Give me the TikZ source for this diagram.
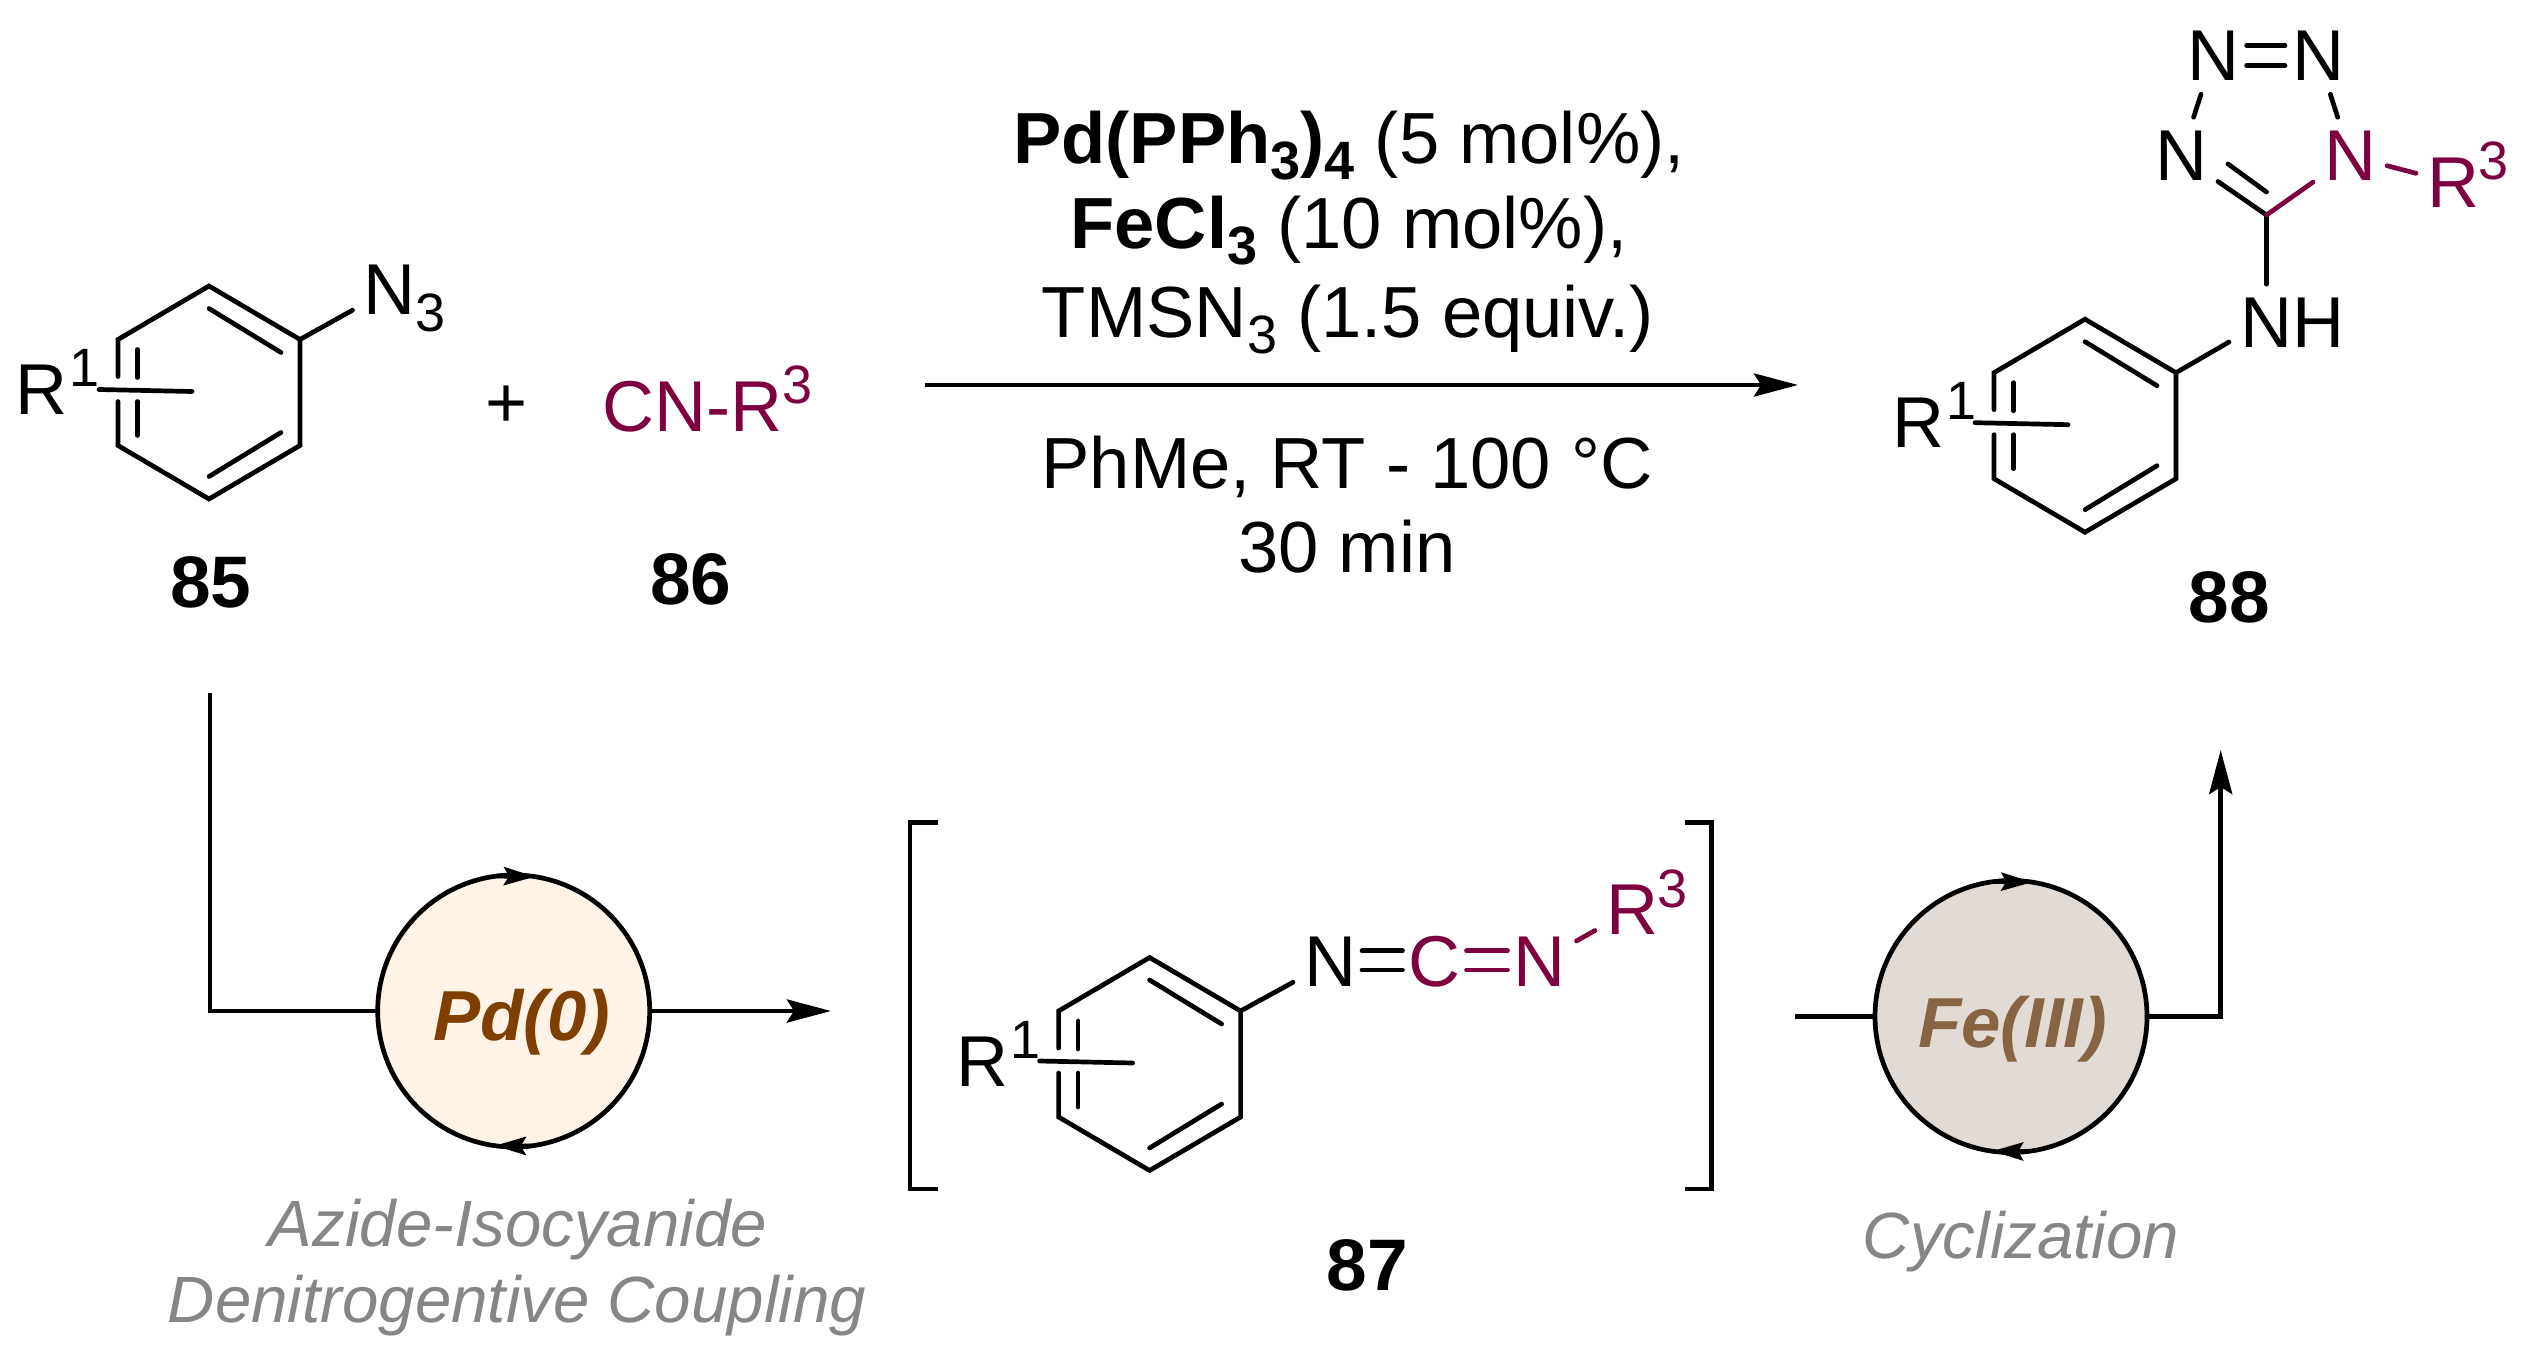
\documentclass[tikz,border=0pt]{standalone}
\usepackage{fontspec}
\usepackage{xcolor}
\setmainfont{Liberation Sans}
\usetikzlibrary{arrows.meta}
\definecolor{isoPurple}{HTML}{7F003F}
\definecolor{pdBrown}{HTML}{7F3F00}
\definecolor{pdFill}{HTML}{FFF3E8}
\definecolor{feBrown}{HTML}{856544}
\definecolor{feFill}{HTML}{E2DAD5}
\definecolor{stepGray}{HTML}{868686}
\newcommand{\Sub}[1]{\raisebox{-8pt}{\fontsize{27}{27}\selectfont #1}}
\newcommand{\Sup}[1]{\raisebox{14pt}{\fontsize{27}{27}\selectfont #1}}
\newcommand{\Aryl}[3]{%
\begin{scope}[shift={(#2,#3)}]
\coordinate (#1-t) at (0,-106.5);
\coordinate (#1-ur) at (91,-53);
\coordinate (#1-lr) at (91,53);
\coordinate (#1-b) at (0,106.5);
\coordinate (#1-ll) at (-91,53);
\coordinate (#1-ul) at (-91,-53);
\coordinate (#1-gu) at (-91,-16);
\coordinate (#1-gl) at (-91,9);
\coordinate (#1-iua) at (0,-84);
\coordinate (#1-iub) at (72,-40);
\coordinate (#1-ila) at (0,84);
\coordinate (#1-ilb) at (72,40);
\coordinate (#1-ia) at (-71.5,-43);
\coordinate (#1-ib) at (-71.5,-15);
\coordinate (#1-ic) at (-71.5,9);
\coordinate (#1-id) at (-71.5,43);
\coordinate (#1-sa) at (-110,-3);
\coordinate (#1-sb) at (-17,-1);
\node[atom,anchor=base west] (#1-r) at (-204,22) {R\kern1pt\Sup{1}};
\draw[bond] (#1-gu) -- (#1-ul) -- (#1-t) -- (#1-ur) -- (#1-lr) -- (#1-b) -- (#1-ll) -- (#1-gl);
\draw[bond] (#1-iua) -- (#1-iub);
\draw[bond] (#1-ila) -- (#1-ilb);
\draw[bond] (#1-ia) -- (#1-ib);
\draw[bond] (#1-ic) -- (#1-id);
\draw[bond] (#1-sa) -- (#1-sb);
\end{scope}}
\tikzset{
bond/.style={line width=2.35pt,line cap=round,line join=miter},
isobond/.style={bond,color=isoPurple},
flow/.style={line width=2.35pt,-{Stealth[length=22pt,width=11.5pt,inset=3.5pt]}},
plain/.style={line width=2.35pt},
bracket/.style={line width=2.35pt},
cycletip/.style={-{Stealth[length=15.5pt,width=9pt,inset=2.5pt]},line width=2.35pt},
atom/.style={inner xsep=5.5pt,inner ysep=7pt,outer sep=0pt},
isoatom/.style={atom,text=isoPurple},
tag/.style={font=\fontsize{36.5}{44}\bfseries\selectfont},
cycle/.style={circle,draw,line width=2.35pt,minimum size=136pt,inner sep=0pt,outer sep=0pt},
metal/.style={anchor=base,font=\fontsize{35.4}{42}\bfseries\itshape\selectfont},
note/.style={anchor=base,text=stepGray,font=\fontsize{32.7}{40}\itshape\selectfont},
cond/.style={anchor=base,font=\fontsize{36.2}{44}\selectfont}
}
\begin{document}
\begin{tikzpicture}[x=0.5pt,y=-0.5pt,every node/.append style={font=\fontsize{36}{43}\selectfont}]
\useasboundingbox (0,0) rectangle (2539,1364);

\Aryl{a}{209}{392.5}
\node[atom] (a-n) at (389.5,289.5) {N};
\node[atom,anchor=base west,inner xsep=0pt] (a-n3) at (415,316) {\Sub{3}};
\node (plus) at (507,407) {+};
\node[anchor=base west,text=isoPurple] (iso) at (595,431) {CN-R\Sup{3}};
\node[tag,anchor=base] (c85) at (211,607) {85};
\node[tag,anchor=base] (c86) at (691,604) {86};
\draw[bond] (a-ur) -- (a-n);

\node[cond] (r1) at (1349,164) {\textbf{Pd(PPh\Sub{3})\Sub{4}} (5 mol\%),};
\node[cond] (r2) at (1349,249) {\textbf{FeCl\Sub{3}} (10 mol\%),};
\node[cond] (r3) at (1348,337) {TMSN\Sub{3} (1.5 equiv.)};
\node[cond] (r4) at (1347,488) {PhMe, RT - 100 °C};
\node[cond] (r5) at (1347,572) {30 min};
\coordinate (rxn-a) at (925,385);
\coordinate (rxn-b) at (1798,385);
\draw[flow] (rxn-a) -- (rxn-b);

\Aryl{p}{2085}{425.7}
\node[atom] (nh) at (2292,323) {NH};
\node[atom] (n1) at (2213.6,55.5) {N};
\node[atom] (n2) at (2318,55.5) {N};
\node[atom] (n3) at (2181,156) {N};
\node[isoatom] (n4) at (2350,156) {N};
\coordinate (c5) at (2266.5,215);
\coordinate (c5-a) at (2266.5,192);
\coordinate (c5-b) at (2228,164);
\node[isoatom] (p-r3) at (2453,183) {R};
\node[anchor=base west,inner xsep=0pt,text=isoPurple] (p-r3s) at (2478,180) {\fontsize{27}{27}\selectfont 3};
\node[tag,anchor=base] (c88) at (2229,622) {88};
\draw[bond] (p-ur) -- ([yshift=-9.5pt]nh.west);
\draw[bond] (c5) -- (c5 |- nh.north);
\draw[bond] (c5) -- (n3);
\draw[bond] (c5-a) -- (c5-b);
\draw[isobond] (c5) -- (n4);
\draw[bond] (n3) -- (n1);
\draw[bond] (n2) -- (n4);
\draw[bond,shorten <=-2pt,shorten >=-2pt] ([yshift=5pt]n1.east) -- ([yshift=5pt]n2.west);
\draw[bond,shorten <=-2pt,shorten >=-2pt] ([yshift=-5pt]n1.east) -- ([yshift=-5pt]n2.west);
\draw[isobond] (n4) -- (p-r3);

\coordinate (pd-in) at (210,693);
\coordinate (pd-out) at (831,1011);
\node[cycle,fill=pdFill] (pd) at (513.7,1011) {};
\node[metal,text=pdBrown] (pd-t) at (521.5,1040.5) {Pd(0)};
\draw[plain] (pd-in) |- (pd.west);
\draw[flow] (pd.east) -- (pd-out);
\draw[cycletip] (pd.97) -- (pd.81);
\draw[cycletip] (pd.277) -- (pd.262);
\node[note] (pd-n1) at (518,1246.5) {Azide-Isocyanide};
\node[note] (pd-n2) at (517,1322) {Denitrogentive Coupling};

\coordinate (bl-a) at (937.6,822.7);
\coordinate (bl-b) at (910,822.7);
\coordinate (bl-c) at (910,1189);
\coordinate (bl-d) at (937.6,1189);
\coordinate (br-a) at (1684.7,822.7);
\coordinate (br-b) at (1711.6,822.7);
\coordinate (br-c) at (1711.6,1189);
\coordinate (br-d) at (1684.7,1189);
\draw[bracket] (bl-a) -- (bl-b) -- (bl-c) -- (bl-d);
\draw[bracket] (br-a) -- (br-b) -- (br-c) -- (br-d);
\Aryl{i}{1149.6}{1064}
\node[atom] (i-n) at (1330,962) {N};
\node[isoatom] (i-c) at (1434.5,962) {C};
\node[isoatom] (i-m) at (1539.5,962) {N};
\node[isoatom] (i-r) at (1632,909.5) {R};
\node[anchor=base west,inner xsep=0pt,text=isoPurple] (i-rs) at (1657,907) {\fontsize{27}{27}\selectfont 3};
\node[tag,anchor=base] (c87) at (1367,1290) {87};
\draw[bond] (i-ur) -- (i-n);
\draw[bond,shorten <=-2.5pt,shorten >=-2.5pt] ([yshift=5.6pt]i-n.east) -- ([yshift=5.6pt]i-c.west);
\draw[bond,shorten <=-2.5pt,shorten >=-2.5pt] ([yshift=-4pt]i-n.east) -- ([yshift=-4pt]i-c.west);
\draw[isobond,shorten <=-2.5pt,shorten >=-2.5pt] ([yshift=5.6pt]i-c.east) -- ([yshift=5.6pt]i-m.west);
\draw[isobond,shorten <=-2.5pt,shorten >=-2.5pt] ([yshift=-4pt]i-c.east) -- ([yshift=-4pt]i-m.west);
\draw[isobond] (i-m) -- (i-r);

\coordinate (fe-in) at (1795,1016.5);
\coordinate (fe-out) at (2220.7,750);
\node[cycle,fill=feFill] (fe) at (2011,1016.5) {};
\node[metal,text=feBrown] (fe-t) at (2012.5,1047) {Fe(III)};
\draw[plain] (fe-in) -- (fe.west);
\draw[flow] (fe.east) -| (fe-out);
\draw[cycletip] (fe.97) -- (fe.81);
\draw[cycletip] (fe.277) -- (fe.262);
\node[note] (fe-n) at (2021,1258) {Cyclization};
\end{tikzpicture}
\end{document}
